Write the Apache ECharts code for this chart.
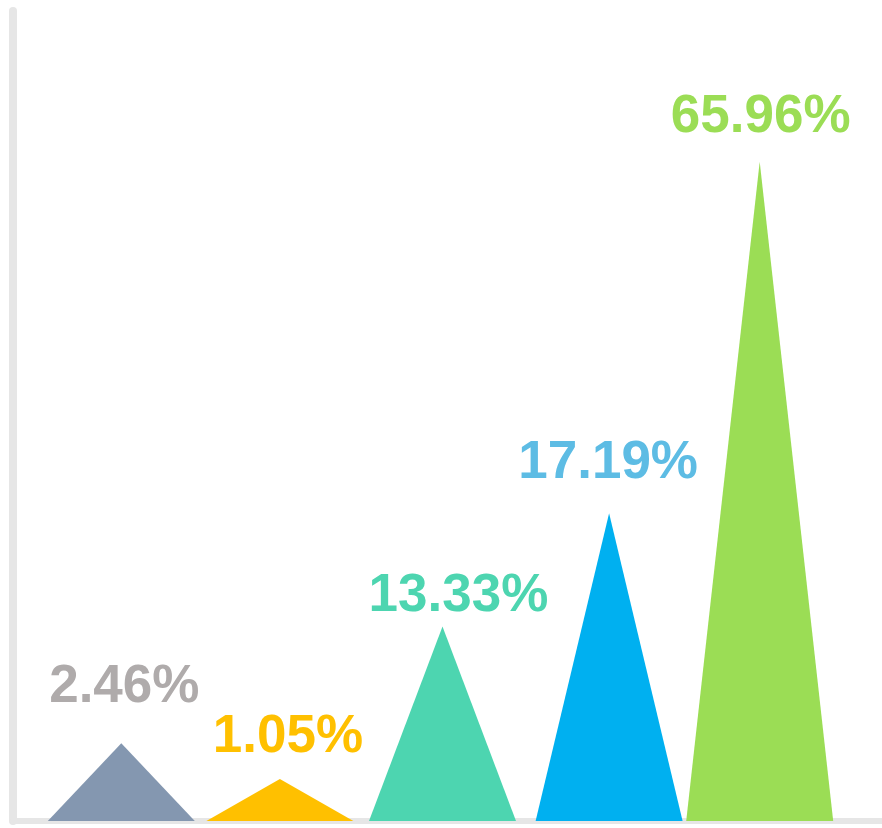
<!DOCTYPE html>
<html>
<head>
<meta charset="utf-8">
<script src="https://cdn.jsdelivr.net/npm/echarts@6/dist/echarts.min.js"></script>
<style>
html,body{margin:0;padding:0;background:#fff;}
#main{width:882px;height:828px;}
</style>
</head>
<body>
<div id="main"></div>
<script>
// ---- data ----
const categories = ['A', 'B', 'C', 'D', 'E'];
const heights = [9.6, 5.2, 24.0, 38.0, 81.4];           // drawn height of each triangle (axis units, max 100)
const labels = ['2.46%', '1.05%', '13.33%', '17.19%', '65.96%'];

// ---- style ----
const fillColors = ['#8497B0', '#FFC000', '#4DD5B0', '#00B0F0', '#9BDD55'];
const labelColors = ['#AFABAB', '#FFC000', '#4DD5B0', '#5DBCE4', '#9BDD55'];
const symbolNudgeX = [0, -2, 0, 6, -4];
const labelNudgeX = [3, 6, 16, 5, -3];
const labelDistance = [29, 15, 4, 23, 18];

const chart = echarts.init(document.getElementById('main'), null, {renderer: 'canvas'});

const items = heights.map((v, i) => ({
  value: v,
  symbolOffset: [symbolNudgeX[i], 0],
  itemStyle: {color: fillColors[i]},
  label: {
    color: labelColors[i],
    offset: [labelNudgeX[i], 0],
    distance: labelDistance[i],
    formatter: labels[i]
  }
}));

chart.setOption({
  animation: false,
  backgroundColor: '#fff',
  grid: [
    {left: 41, right: 38, top: 11, bottom: 7},
    {left: 13, right: 0, top: 11, bottom: 7}
  ],
  xAxis: [
    {gridIndex: 0, type: 'category', data: categories, show: false},
    {gridIndex: 1, type: 'value', min: 0, max: 1, offset: 4,
     axisLine: {show: true, lineStyle: {color: '#E6E6E6', width: 6}},
     axisTick: {show: false}, axisLabel: {show: false}, splitLine: {show: false}}
  ],
  yAxis: [
    {gridIndex: 0, type: 'value', min: 0, max: 100, show: false},
    {gridIndex: 1, type: 'value', min: 0, max: 1,
     axisLine: {show: true, lineStyle: {color: '#E6E6E6', width: 8, cap: 'round'}},
     axisTick: {show: false}, axisLabel: {show: false}, splitLine: {show: false}}
  ],
  series: [{
    type: 'pictorialBar',
    xAxisIndex: 0,
    yAxisIndex: 0,
    symbol: 'triangle',
    symbolSize: [147, '100%'],
    z: 5,
    label: {
      show: true,
      position: 'top',
      fontFamily: 'Liberation Sans, Arial, sans-serif',
      fontWeight: 'bold',
      fontSize: 53
    },
    data: items
  }]
});
</script>
</body>
</html>
